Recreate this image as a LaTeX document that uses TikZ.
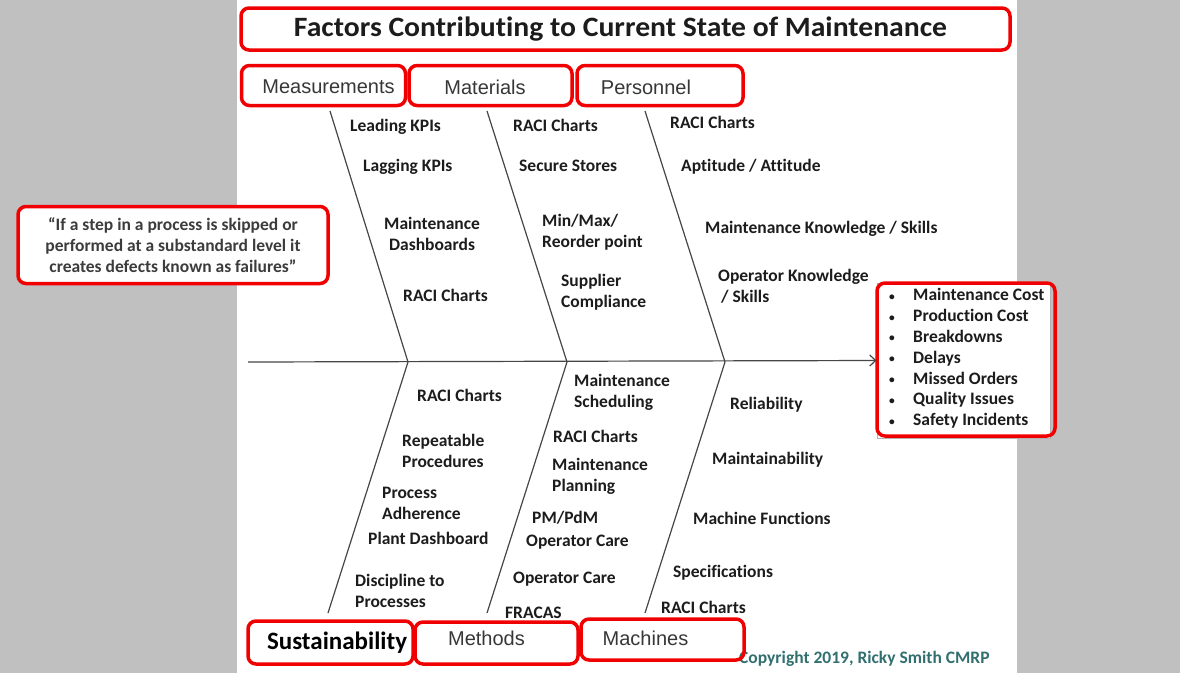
\documentclass[tikz,border=0pt]{standalone}
\usepackage{fontspec}
\usepackage{graphicx}
\setmainfont{Carlito}[Ligatures=NoCommon]
\newfontfamily\arialfont{Liberation Sans}
\usetikzlibrary{arrows.meta}
\definecolor{bggray}{RGB}{192,192,192}
\definecolor{hilite}{RGB}{240,0,0}
\definecolor{ink}{RGB}{28,28,28}
\definecolor{quoteink}{RGB}{60,60,60}
\definecolor{catink}{RGB}{55,55,55}
\definecolor{boneink}{RGB}{70,70,70}
\definecolor{copyink}{RGB}{50,112,112}
\newcommand{\effitem}{\makebox[25pt][l]{\hspace{1pt}\raisebox{0.5pt}{\scalebox{0.65}{\textbullet}}}}
\begin{document}
\begin{tikzpicture}[x=1pt,y=-1pt,
  hibox/.style={draw=hilite, line width=3.5pt, rounded corners=8pt, inner sep=0pt},
  catlabel/.style={font=\arialfont\fontsize{20}{23}\selectfont, text=catink, inner sep=0pt},
  lbl/.style={font=\bfseries\fontsize{17.5}{21}\selectfont, text=ink, anchor=west, inner sep=0pt, align=left},
  lblc/.style={lbl, align=center},
  bonestyle/.style={draw=boneink, line width=1.2pt}]

% canvas
\useasboundingbox (0,0) rectangle (1180,673);
\fill[bggray] (0,0) rectangle (1180,673);
\fill[white] (237,0) rectangle (1017,673);

% title
\node[font=\bfseries\fontsize{28}{32}\selectfont, text=ink, inner sep=0pt] (title) at (620.5,29)
  {\resizebox{653pt}{\height}{Factors Contributing to Current State of Maintenance}};
\node[hibox, minimum width=769pt, minimum height=42pt] (titlebox) at (625.5,29) {};

% spine and joints
\coordinate (tail) at (248,362);
\coordinate (j1) at (408,362);
\coordinate (j2) at (567,362);
\coordinate (j3) at (725,362);
\coordinate (t1) at (330,111);
\coordinate (t2) at (487,111);
\coordinate (t3) at (645,111);
\coordinate (b1) at (328,613);
\coordinate (b2) at (487,613);
\coordinate (b3) at (645,613);

% effect box
\node[draw=gray!60, fill=white, line width=0.8pt, minimum width=173pt, minimum height=155pt, inner sep=0pt] (effect) at (963.5,360.5) {};
\node[font=\bfseries\fontsize{17.5}{20.8}\selectfont, text=ink, anchor=west, align=left, inner sep=0pt] (effects) at (888,358.5)
  {\effitem Maintenance Cost\\
   \effitem Production Cost\\
   \effitem Breakdowns\\
   \effitem Delays\\
   \effitem Missed Orders\\
   \effitem Quality Issues\\
   \effitem Safety Incidents};
\node[hibox, minimum width=178pt, minimum height=153pt] (effectbox) at (966,359.5) {};

\draw[bonestyle, -{Straight Barb[length=6pt,width=11pt]}] (tail) -- (effect.west);
\draw[bonestyle] (t1) -- (j1) -- (b1);
\draw[bonestyle] (t2) -- (j2) -- (b2);
\draw[bonestyle] (t3) -- (j3) -- (b3);

% quote
\node[hibox, fill=white, minimum width=310pt, minimum height=77pt, align=center,
      font=\bfseries\fontsize{17.5}{21}\selectfont, text=quoteink] (quote) at (173,245)
  {“If a step in a process is skipped or\\performed at a substandard level it\\creates defects known as failures”};

% upper categories
\node[catlabel] (meas) at (328.5,87) {Measurements};
\node[hibox, minimum width=164pt, minimum height=40pt] (measbox) at (323.5,85.5) {};
\node[catlabel] (mat) at (485,87) {Materials};
\node[hibox, minimum width=163pt, minimum height=40pt] (matbox) at (490.5,85.5) {};
\node[catlabel] (pers) at (646,87) {Personnel};
\node[hibox, minimum width=166pt, minimum height=40pt] (persbox) at (660,85.5) {};

% Measurements causes
\node[lbl] (m1) at (350,127) {Leading KPIs};
\node[lbl] (m2) at (363,167) {Lagging KPIs};
\node[lblc] (m3) at (384,233.5) {Maintenance\\Dashboards};
\node[lbl] (m4) at (403,295) {RACI Charts};

% Materials causes
\node[lbl] (a1) at (513,125) {RACI Charts};
\node[lbl] (a2) at (519,166) {Secure Stores};
\node[lbl] (a3) at (542,232.5) {Min/Max/\\Reorder point};
\node[lbl] (a4) at (561,292.5) {Supplier\\Compliance};

% Personnel causes
\node[lbl] (p1) at (670,122) {RACI Charts};
\node[lbl] (p2) at (681,167) {Aptitude / Attitude};
\node[lbl] (p3) at (705,229) {Maintenance Knowledge / Skills};
\node[lbl] (p4) at (718,286.5) {Operator Knowledge\\\hspace{3pt}/ Skills};

% Sustainability causes
\node[lbl] (s1) at (417,395) {RACI Charts};
\node[lbl] (s2) at (402,450.5) {Repeatable\\Procedures};
\node[lbl] (s3) at (382,503) {Process\\Adherence};
\node[lbl] (s4) at (368,538) {Plant Dashboard};
\node[lbl] (s5) at (355,590.5) {Discipline to\\Processes};

% Methods causes
\node[lbl] (e1) at (574,392) {Maintenance\\Scheduling};
\node[lbl] (e2) at (553,436) {RACI Charts};
\node[lbl] (e3) at (552,476.5) {Maintenance\\Planning};
\node[lbl] (e4) at (532,518) {PM/PdM};
\node[lbl] (e5) at (526,542) {Operator Care};
\node[lbl] (e6) at (513,579) {Operator Care};
\node[lbl] (e7) at (505,613) {FRACAS};

% Machines causes
\node[lbl] (c1) at (730,405) {Reliability};
\node[lbl] (c2) at (712,460) {Maintainability};
\node[lbl] (c3) at (693,518) {Machine Functions};
\node[lbl] (c4) at (673,573) {Specifications};
\node[lbl] (c5) at (661,607) {RACI Charts};

% copyright
\node[lbl, text=copyink] (copy) at (739,659) {Copyright 2019, Ricky Smith CMRP};

% lower categories
\node[font=\bfseries\fontsize{25}{29}\selectfont, text=black, inner sep=0pt] (sust) at (337,643) {Sustainability};
\node[hibox, minimum width=165pt, minimum height=43pt] (sustbox) at (330.5,642.5) {};
\node[catlabel] (meth) at (486.5,638) {Methods};
\node[hibox, minimum width=163pt, minimum height=42pt] (methbox) at (496.5,643) {};
\node[catlabel] (mach) at (645.5,638) {Machines};
\node[hibox, minimum width=163pt, minimum height=41pt] (machbox) at (662.5,639.5) {};
\end{tikzpicture}
\end{document}
